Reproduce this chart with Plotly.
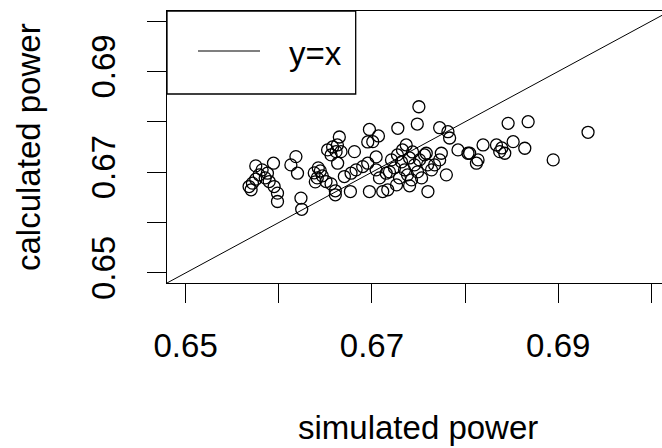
import plotly.graph_objects as go

# simulated power (x) and calculated power (y)
sim_power = [
    0.65681, 0.65717, 0.65753, 0.65789, 0.65753, 0.65821, 0.65878, 0.65897, 0.65943, 0.65950,
    0.65986, 0.65986, 0.65854, 0.65703, 0.66184, 0.66130, 0.66201, 0.66238, 0.66246, 0.66381,
    0.66413, 0.66446, 0.66392, 0.66467, 0.66424, 0.66507, 0.66561, 0.66650, 0.66524, 0.66578,
    0.66615, 0.66561, 0.66668, 0.66629, 0.66812, 0.66632, 0.66607, 0.66607, 0.66704, 0.66776,
    0.66830, 0.66901, 0.66955, 0.66769, 0.66973, 0.67116, 0.66973, 0.67009, 0.67070, 0.66955,
    0.67045, 0.67045, 0.67153, 0.67081, 0.67504, 0.67487, 0.67278, 0.67727, 0.67816, 0.67834,
    0.67368, 0.67210, 0.67274, 0.67318, 0.67242, 0.67350, 0.67404, 0.67457, 0.67382, 0.67296,
    0.67511, 0.67490, 0.67565, 0.67597, 0.67425, 0.67188, 0.67328, 0.67436, 0.67533, 0.67264,
    0.67170, 0.67404, 0.67601, 0.67640, 0.67745, 0.67727, 0.67673, 0.67799, 0.67583, 0.67924,
    0.68031, 0.68193, 0.68337, 0.68049, 0.68139, 0.68122, 0.68372, 0.68426, 0.68394, 0.68516,
    0.68641, 0.68462, 0.68677, 0.68946, 0.69320,
]
calc_power = [
    0.66715, 0.66782, 0.66861, 0.66947, 0.67125, 0.67046, 0.66980, 0.66814, 0.67178, 0.66715,
    0.66584, 0.66418, 0.66887, 0.66650, 0.67309, 0.67145, 0.66980, 0.66485, 0.66263, 0.66986,
    0.66887, 0.67026, 0.66808, 0.66927, 0.67085, 0.66814, 0.66768, 0.67699, 0.67442, 0.67501,
    0.67408, 0.67343, 0.67408, 0.67541, 0.67408, 0.67178, 0.66551, 0.66630, 0.66913, 0.66980,
    0.67046, 0.67111, 0.67178, 0.66616, 0.66616, 0.66616, 0.67848, 0.67606, 0.67719, 0.67600,
    0.67303, 0.67046, 0.66980, 0.66887, 0.68299, 0.67956, 0.67871, 0.67883, 0.67804, 0.67679,
    0.67541, 0.67244, 0.67343, 0.67204, 0.67085, 0.67046, 0.67283, 0.67145, 0.66947, 0.66887,
    0.67244, 0.67006, 0.67343, 0.67145, 0.66847, 0.67006, 0.67442, 0.67402, 0.66887, 0.66748,
    0.66650, 0.66729, 0.66616, 0.67046, 0.67376, 0.67244, 0.67145, 0.66947, 0.67376, 0.67442,
    0.67376, 0.67541, 0.67541, 0.67376, 0.67244, 0.67178, 0.67408, 0.67376, 0.67481, 0.67606,
    0.67475, 0.67970, 0.68002, 0.67244, 0.67792,
]

diag = [0.60, 0.75]  # y = x reference line

tick_vals = [0.65, 0.66, 0.67, 0.68, 0.69, 0.70]
tick_text = ["0.65", "", "0.67", "", "0.69", ""]

FONT = "Liberation Sans, Arial, sans-serif"
FS = 33

fig = go.Figure()
fig.add_trace(go.Scatter(
    x=diag, y=diag, mode="lines", name="y=x",
    line=dict(color="black", width=1), showlegend=False,
))
fig.add_trace(go.Scatter(
    x=sim_power, y=calc_power, mode="markers", name="points",
    marker=dict(symbol="circle-open", size=12, color="black", line=dict(width=1.3, color="black")),
    showlegend=False,
))

# legend box drawn like R's legend()
fig.add_shape(type="rect", xref="paper", yref="paper", x0=0, x1=0.3812, y0=0.6949, y1=1.0,
              line=dict(color="black", width=1.3), fillcolor="white", layer="above")
fig.add_shape(type="line", xref="paper", yref="paper", x0=0.0626, x1=0.1879, y0=0.853, y1=0.853,
              line=dict(color="black", width=1.2), layer="above")
fig.add_annotation(text="y=x", xref="paper", yref="paper", x=0.299, y=0.842,
                   showarrow=False, font=dict(family=FONT, size=FS, color="black"),
                   xanchor="center", yanchor="middle")

# axis titles (placed like R's mtext lines)
fig.add_annotation(text="simulated power", xref="paper", yref="paper", x=0.508, y=-0.533,
                   showarrow=False, font=dict(family=FONT, size=FS, color="black"),
                   xanchor="center", yanchor="middle")
fig.add_annotation(text="calculated power", xref="paper", yref="paper", x=-0.2808, y=0.5,
                   textangle=-90, showarrow=False, font=dict(family=FONT, size=FS, color="black"),
                   xanchor="center", yanchor="middle")

fig.update_layout(
    width=662, height=448,
    margin=dict(l=167, r=0, t=11, b=165),
    paper_bgcolor="white", plot_bgcolor="white",
    font=dict(family=FONT, size=FS, color="black"),
    showlegend=False,
)
fig.update_xaxes(
    range=[0.648, 0.70114], tickvals=tick_vals, ticktext=tick_text,
    ticks="outside", ticklen=19, tickwidth=1.2, tickcolor="black",
    showline=True, linecolor="black", linewidth=1.3, mirror=True,
    showgrid=False, zeroline=False, automargin=False,
    ticklabelstandoff=14,
)
fig.update_yaxes(
    range=[0.648, 0.702], tickvals=tick_vals, ticktext=tick_text, tickangle=-90,
    ticks="outside", ticklen=19, tickwidth=1.2, tickcolor="black",
    showline=True, linecolor="black", linewidth=1.3, mirror=False,
    showgrid=False, zeroline=False, automargin=False,
    ticklabelstandoff=19,
)

fig.write_html(
    "out.html",
    config={"displayModeBar": False},
    post_script="document.body.style.margin='0';document.body.style.overflow='hidden';",
)
